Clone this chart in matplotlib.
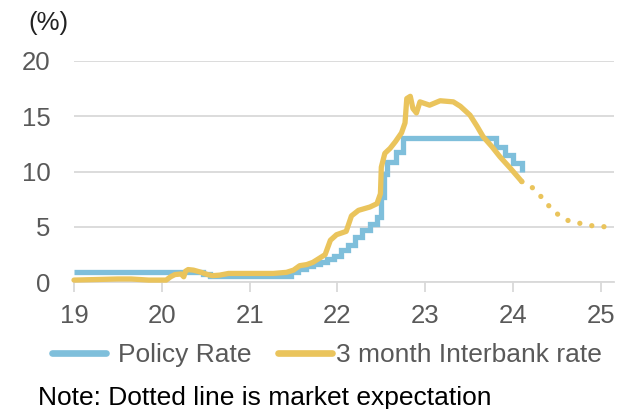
import matplotlib
matplotlib.use("Agg")
import matplotlib.pyplot as plt
from matplotlib.lines import Line2D

plt.rcParams['font.family'] = ['Liberation Sans', 'DejaVu Sans']

# Policy rate (%), step changes; x is year (two-digit, decimal)
policy_x = [19.00, 20.47, 20.55, 21.47, 21.55, 21.64, 21.72, 21.80, 21.88, 21.96,
            22.04, 22.12, 22.20, 22.28, 22.37, 22.45, 22.50, 22.53, 22.57, 22.67,
            22.75, 23.81, 23.91, 24.00, 24.10]
policy_y = [0.9, 0.75, 0.6, 0.9, 1.2, 1.5, 1.65, 1.8, 2.1, 2.4,
            2.9, 3.4, 4.1, 4.7, 5.3, 5.9, 7.75, 9.75, 10.9, 11.8,
            13.0, 12.25, 11.5, 10.75, 10.0]

# 3 month interbank rate (%)
bank_x = [19.00, 19.25, 19.50, 19.65, 19.85, 20.05, 20.10, 20.15, 20.22, 20.25,
          20.27, 20.30, 20.36, 20.45, 20.52, 20.58, 20.66, 20.76, 20.97, 21.27,
          21.42, 21.50, 21.57, 21.65, 21.72, 21.80, 21.86, 21.92, 21.99, 22.10,
          22.16, 22.24, 22.37, 22.45, 22.49, 22.50, 22.54, 22.60, 22.66, 22.73,
          22.77, 22.79, 22.83, 22.86, 22.90, 22.94, 23.05, 23.17, 23.32, 23.40,
          23.51, 23.59, 23.66, 23.76, 23.85, 23.97, 24.10]
bank_y = [0.2, 0.25, 0.3, 0.3, 0.2, 0.2, 0.5, 0.7, 0.75, 0.5,
          1.0, 1.15, 1.1, 0.9, 0.7, 0.6, 0.65, 0.8, 0.8, 0.8,
          0.9, 1.1, 1.5, 1.6, 1.8, 2.2, 2.5, 3.8, 4.3, 4.6,
          6.0, 6.5, 6.8, 7.1, 8.0, 10.4, 11.65, 12.1, 12.7, 13.5,
          14.4, 16.6, 16.8, 15.7, 15.3, 16.3, 16.0, 16.4, 16.3, 15.9,
          15.1, 14.1, 13.15, 12.25, 11.35, 10.3, 9.1]

# Market expectation for the interbank rate
expect_x = [24.10, 24.22, 24.32, 24.41, 24.51, 24.63, 24.76, 24.90, 25.04]
expect_y = [9.1, 8.55, 7.73, 6.89, 6.14, 5.57, 5.33, 5.11, 5.02]

year_ticks = [19, 20, 21, 22, 23, 24, 25]
rate_ticks = [0, 5, 10, 15, 20]

blue = '#7FBFDB'
gold = '#EAC45C'
grid = '#D9D9D9'
label_grey = '#595959'

fig = plt.figure(figsize=(6.32, 4.09), dpi=100)
ax = fig.add_axes([74 / 632, 1 - 282.3 / 409, (614 - 74) / 632, (282.3 - 60.9) / 409])

ax.plot(policy_x, policy_y, drawstyle='steps-post', color=blue, lw=3.8,
        solid_joinstyle='miter', solid_capstyle='butt', clip_on=False, zorder=3)
ax.plot(bank_x, bank_y, color=gold, lw=3.8, solid_joinstyle='round',
        solid_capstyle='round', clip_on=False, zorder=4)
ax.plot(expect_x, expect_y, color=gold, lw=3.8, linestyle=(0, (0.01, 2.3)),
        dash_capstyle='round', clip_on=False, zorder=4)

ax.set_xlim(19, 25.15)
ax.set_ylim(0, 20)
ax.set_xticks(year_ticks)
ax.set_yticks(rate_ticks)
ax.set_xticklabels([str(t) for t in year_ticks])
ax.set_yticklabels([str(t) for t in rate_ticks])

for s in ['top', 'right', 'left']:
    ax.spines[s].set_visible(False)
ax.spines['bottom'].set_color(grid)
ax.spines['bottom'].set_linewidth(1.3)

ax.yaxis.grid(True, color=grid, lw=1.3)
ax.set_axisbelow(True)
ax.tick_params(axis='y', length=0, pad=17, labelsize=18.5, labelcolor=label_grey)
ax.tick_params(axis='x', length=7, width=1.3, color=grid, direction='out',
               pad=8.5, labelsize=18.5, labelcolor=label_grey)

fig.text(28 / 632, 1 - 23 / 409, '(%)', fontsize=18.5, va='center', ha='left',
         color='#222222')

# Legend: one entry per series, laid out side by side
legend_y = 1 - 355 / 409
entries = [
    (blue, 'Policy Rate', 52 / 632, 0.45),
    (gold, '3 month Interbank rate', 278 / 632, 0.15),
]
for colour, name, x0, gap in entries:
    handle = Line2D([], [], color=colour, lw=4.8, solid_capstyle='round')
    leg = fig.legend(handles=[handle], labels=[name], loc='center left',
                     bbox_to_anchor=(x0, legend_y), frameon=False,
                     handlelength=2.05, handletextpad=gap, borderpad=0,
                     borderaxespad=0, fontsize=19)
    for t in leg.get_texts():
        t.set_color(label_grey)

fig.text(38 / 632, 1 - 405 / 409, 'Note: Dotted line is market expectation',
         fontsize=19, va='baseline', ha='left', color='black')

fig.savefig('out.png', dpi=100)
